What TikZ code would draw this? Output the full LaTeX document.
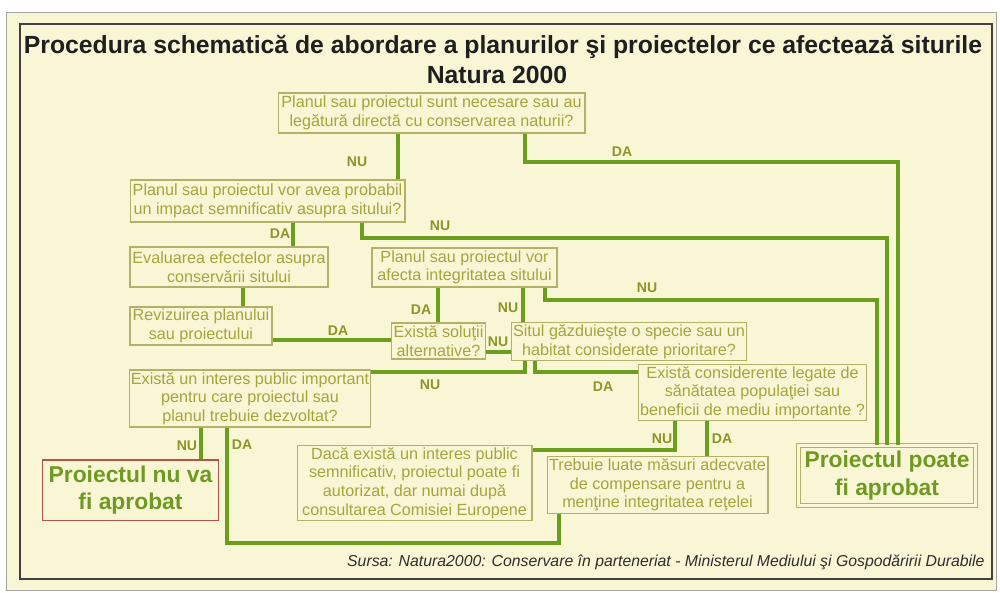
\documentclass[tikz,border=0pt]{standalone}
\usepackage{fontspec}
\setmainfont{Liberation Sans}
\definecolor{paper}{HTML}{F9F6D6}
\definecolor{flow}{HTML}{6C9E1E}
\definecolor{boxline}{HTML}{B3B06A}
\definecolor{boxtext}{HTML}{A6A43C}
\definecolor{labtext}{HTML}{8A9628}
\definecolor{bigtext}{HTML}{6E9A22}
\definecolor{nored}{HTML}{B5524A}

\begin{document}
\begin{tikzpicture}[x=0.02cm,y=-0.02cm,font=\fontsize{9.2}{10.6}\selectfont]
    \tikzstyle{box}=[rectangle,draw=boxline,line width=0.6pt,fill=paper,text=boxtext,align=center,inner sep=1pt]
    \tikzstyle{link}=[draw=flow,line width=2.6pt]
    \tikzstyle{lab}=[font=\fontsize{8}{9}\selectfont\bfseries,text=labtext,inner sep=0pt]
    \tikzstyle{final}=[rectangle,align=center,fill=paper,text=bigtext,font=\fontsize{13}{15.5}\selectfont\bfseries]
    \tikzstyle{heading}=[font=\fontsize{14.1}{16}\selectfont\bfseries,text=black!88,inner sep=0pt]
    \useasboundingbox (0,0) rectangle (1000,592);
    \fill[white] (0,0) rectangle (1000,592);
    \fill[paper] (6,12) rectangle (996,590);
    \draw[black!35,line width=0.4pt] (6,12) rectangle (996,590);
    \draw[black!75,line width=1.2pt] (20,24) rectangle (992,579);
    % title
    \node [heading] (ttl1) at (503,47) {Procedura schematică de abordare a planurilor şi proiectelor ce afectează siturile};
    \node [heading] (ttl2) at (497,75) {Natura 2000};
    % boxes
    \node [box,minimum width=6.14cm,minimum height=0.80cm] (necesar) at (431.5,113) {Planul sau proiectul sunt necesare sau au\\legătură directă cu conservarea naturii?};
    \node [box,minimum width=5.50cm,minimum height=0.84cm] (impact) at (267.5,201) {Planul sau proiectul vor avea probabil\\un impact semnificativ asupra sitului?};
    \node [box,minimum width=3.96cm,minimum height=0.80cm] (evaluare) at (229,267) {Evaluarea efectelor asupra\\conservării sitului};
    \node [box,minimum width=2.84cm,minimum height=0.76cm] (revizuire) at (201,326) {Revizuirea planului\\sau proiectului};
    \node [box,minimum width=3.70cm,minimum height=0.78cm] (integritate) at (464.5,267.5) {Planul sau proiectul vor\\afecta integritatea sitului};
    \node [box,minimum width=1.86cm,minimum height=0.72cm] (solutii) at (438.5,341) {Există soluţii\\alternative?};
    \node [box,minimum width=4.68cm,minimum height=0.74cm] (prioritar) at (629,341.5) {Situl găzduieşte o specie sau un\\habitat considerate prioritare?};
    \node [box,minimum width=4.80cm,minimum height=1.14cm] (interes) at (250,398.5) {Există un interes public important\\pentru care proiectul sau\\planul trebuie dezvoltat?};
    \node [box,minimum width=4.50cm,minimum height=1.10cm] (sanatate) at (752.5,392.5) {Există considerente legate de\\sănătatea populaţiei sau\\beneficii de mediu importante ?};
    \node [box,minimum width=4.70cm,minimum height=1.44cm] (comisie) at (414.5,483) {Dacă există un interes public\\semnificativ, proiectul poate fi\\autorizat, dar numai după\\consultarea Comisiei Europene};
    \node [box,minimum width=4.42cm,minimum height=1.12cm] (compensare) at (657.5,485) {Trebuie luate măsuri adecvate\\de compensare pentru a\\menţine integritatea reţelei};
    \node [final,draw=nored,line width=0.7pt,minimum width=3.38cm,minimum height=1.16cm] (respins) at (130.5,490) {Proiectul nu va\\fi aprobat};
    \node [final,draw=boxline,line width=0.6pt,double=paper,double distance=1.8pt,minimum width=3.50cm,minimum height=1.19cm] (aprobat) at (887,475.5) {Proiectul poate\\fi aprobat};
    % connectors
    \draw [link] (necesar.south -| 398,0) -- (impact.north -| 398,0);
    \draw [link] (necesar.south -| 525,0) -- (525,162) -| (aprobat.north -| 898,0);
    \draw [link] (impact.south -| 293,0) -- (evaluare.north -| 293,0);
    \draw [link] (impact.south -| 362,0) -- (362,238) -| (aprobat.north -| 887,0);
    \draw [link] (evaluare.south -| 243,0) -- (revizuire.north -| 243,0);
    \draw [link] (revizuire.east |- 0,340) -- (solutii.west |- 0,340);
    \draw [link] (integritate.south -| 438,0) -- (solutii.north -| 438,0);
    \draw [link] (integritate.south -| 523,0) -- (prioritar.north -| 523,0);
    \draw [link] (integritate.south -| 545,0) -- (545,300) -| (aprobat.north -| 877,0);
    \draw [link] (solutii.east |- 0,352) -- (prioritar.west |- 0,352);
    \draw [link] (prioritar.south -| 525,0) |- (interes.east |- 0,372);
    \draw [link] (prioritar.south -| 535,0) |- (sanatate.west |- 0,372);
    \draw [link] (interes.south -| 201,0) -- (respins.north -| 201,0);
    \draw [link] (interes.south -| 227,0) -- (227,543) -| (compensare.south -| 559,0);
    \draw [link] (sanatate.south -| 675,0) |- (comisie.east |- 0,450);
    \draw [link] (sanatate.south -| 707,0) -- (compensare.north -| 707,0);
    % answers
    \node [lab] (nu1) at (357,162) {NU};
    \node [lab] (da1) at (622,152) {DA};
    \node [lab] (da2) at (280,234) {DA};
    \node [lab] (nu2) at (440,226) {NU};
    \node [lab] (da3) at (338,331) {DA};
    \node [lab] (da4) at (421,310) {DA};
    \node [lab] (nu3) at (508,308) {NU};
    \node [lab] (nu4) at (647,288) {NU};
    \node [lab] (nu5) at (498,342) {NU};
    \node [lab] (nu6) at (430,385) {NU};
    \node [lab] (da5) at (603,387) {DA};
    \node [lab] (nu7) at (187,446) {NU};
    \node [lab] (da6) at (242,445) {DA};
    \node [lab] (nu8) at (662,439) {NU};
    \node [lab] (da7) at (722,439) {DA};
    % source
    \node [anchor=east,font=\fontsize{9}{10}\selectfont\itshape,text=black!82,inner sep=0pt] (sursa) at (985,562) {Sursa: Natura2000: Conservare în parteneriat - Ministerul Mediului şi Gospodăririi Durabile};
  \end{tikzpicture}
\end{document}
